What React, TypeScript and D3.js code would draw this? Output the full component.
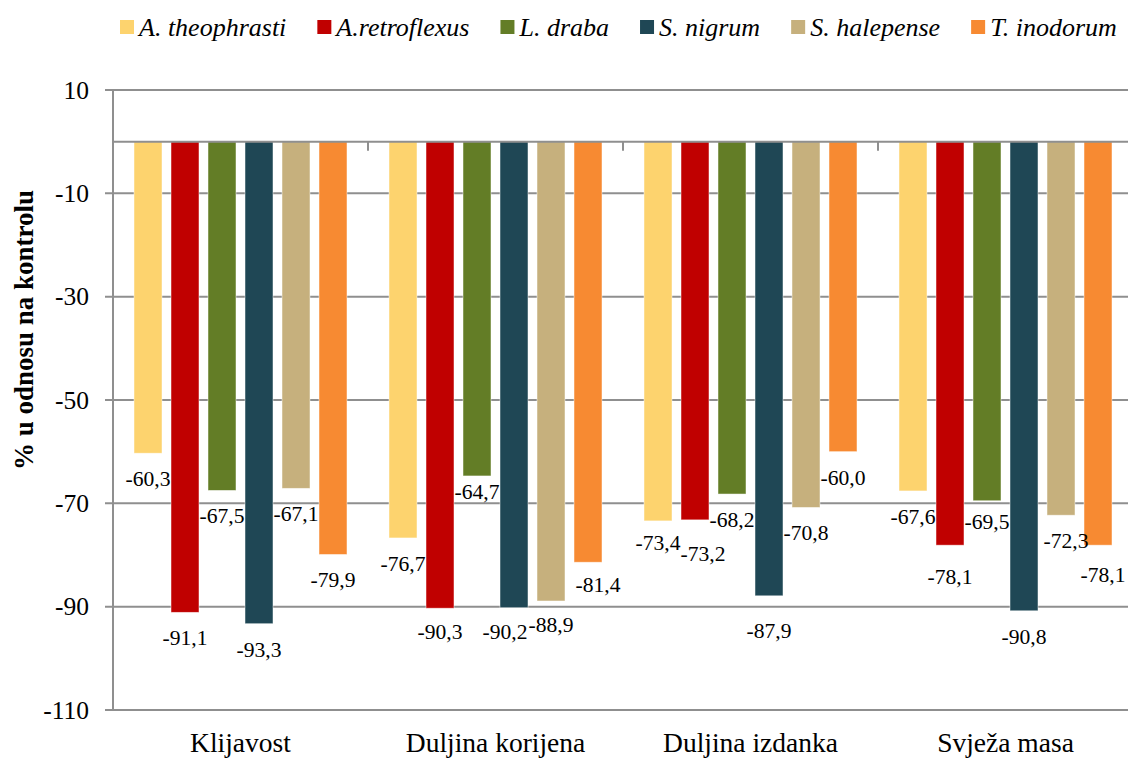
import React, { useEffect, useRef } from "react";
import * as d3 from "d3";

// categories on the x axis
const categories = ["Klijavost", "Duljina korijena", "Duljina izdanka", "Svježa masa"];

// weed species (series)
const species = ["A. theophrasti", "A.retroflexus", "L. draba", "S. nigrum", "S. halepense", "T. inodorum"];

// % relative to control, one array per species, in category order
const theophrasti = [-60.3, -76.7, -73.4, -67.6];
const retroflexus = [-91.1, -90.3, -73.2, -78.1];
const draba = [-67.5, -64.7, -68.2, -69.5];
const nigrum = [-93.3, -90.2, -87.9, -90.8];
const halepense = [-67.1, -88.9, -70.8, -72.3];
const inodorum = [-79.9, -81.4, -60.0, -78.1];

const seriesValues = [theophrasti, retroflexus, draba, nigrum, halepense, inodorum];

const colors = ["#FDD36E", "#C00000", "#637D26", "#1F4755", "#C6B07D", "#F78A32"];

const yTicks = [10, -10, -30, -50, -70, -90, -110];

// hand placed data labels in the original (dx, dy from default spot)
const labelNudge: Record<string, [number, number]> = {
  "L. draba|Duljina korijena": [0, -10],
  "S. nigrum|Duljina korijena": [-9, -2],
  "A.retroflexus|Duljina korijena": [0, -2],
  "S. halepense|Duljina korijena": [0, -2],
  "T. inodorum|Duljina korijena": [10, -3],
  "A. theophrasti|Duljina izdanka": [0, -4],
  "A.retroflexus|Duljina izdanka": [8, 8],
  "S. nigrum|Duljina izdanka": [0, 9],
  "A.retroflexus|Svježa masa": [0, 6],
  "L. draba|Svježa masa": [0, -5],
  "S. halepense|Svježa masa": [5, 0],
  "T. inodorum|Svježa masa": [5, 4],
};

const W = 1128;
const H = 758;
const FONT = "Liberation Serif, Tinos, Times New Roman, DejaVu Serif, serif";

const locale = d3.formatLocale({ decimal: ",", thousands: ".", grouping: [3], currency: ["", ""], minus: "-" });
const fmt = locale.format(".1f");

export default function App() {
  const ref = useRef<SVGSVGElement>(null);

  useEffect(() => {
    const svg = d3.select(ref.current);
    svg.selectAll("*").remove();

    const left = 113, right = 1133, top = 90, bottom = 710;

    const x0 = d3.scaleBand().domain(categories).range([left, right]).paddingInner(0).paddingOuter(0);
    const x1 = d3.scaleBand().domain(species).range([21, x0.bandwidth() - 21]).paddingInner(9 / 37).paddingOuter(0);
    const y = d3.scaleLinear().domain([10, -110]).range([top, bottom]);

    const grid = "#8f8f8f";

    // gridlines
    svg.append("g")
      .selectAll("line")
      .data(yTicks)
      .enter()
      .append("line")
      .attr("x1", left - 8)
      .attr("x2", right)
      .attr("y1", (d) => y(d))
      .attr("y2", (d) => y(d))
      .attr("stroke", grid)
      .attr("stroke-width", 2);

    // y tick labels
    svg.append("g")
      .selectAll("text")
      .data(yTicks)
      .enter()
      .append("text")
      .attr("x", left - 24)
      .attr("y", (d) => y(d))
      .attr("dy", "0.34em")
      .attr("text-anchor", "end")
      .attr("font-family", FONT)
      .attr("font-size", 25.5)
      .attr("fill", "#000")
      .text((d) => d);

    // bars
    const groups = svg.append("g")
      .selectAll("g")
      .data(categories)
      .enter()
      .append("g")
      .attr("transform", (d) => "translate(" + x0(d) + ",0)");

    groups.selectAll("rect")
      .data((c, ci) => species.map((s, si) => ({ s, si, c, v: seriesValues[si][ci] })))
      .enter()
      .append("rect")
      .attr("x", (d) => x1(d.s)!)
      .attr("width", x1.bandwidth())
      .attr("y", y(0))
      .attr("height", (d) => y(d.v) - y(0))
      .attr("fill", (d) => colors[d.si])
      .attr("stroke", "rgba(255,255,255,0.6)")
      .attr("stroke-width", 0.8);

    // zero axis line + category ticks
    svg.append("line")
      .attr("x1", left).attr("x2", right)
      .attr("y1", y(0)).attr("y2", y(0))
      .attr("stroke", grid).attr("stroke-width", 2);

    svg.append("g")
      .selectAll("line")
      .data(categories.slice(1))
      .enter()
      .append("line")
      .attr("x1", (d) => x0(d)!)
      .attr("x2", (d) => x0(d)!)
      .attr("y1", y(0))
      .attr("y2", y(0) + 9)
      .attr("stroke", grid)
      .attr("stroke-width", 2);

    // y axis line
    svg.append("line")
      .attr("x1", left).attr("x2", left)
      .attr("y1", top).attr("y2", bottom)
      .attr("stroke", grid).attr("stroke-width", 2);

    // data labels
    groups.selectAll("text.lbl")
      .data((c, ci) => species.map((s, si) => ({ s, si, c, v: seriesValues[si][ci] })))
      .enter()
      .append("text")
      .attr("class", "lbl")
      .attr("x", (d) => x1(d.s)! + x1.bandwidth() / 2 + (labelNudge[d.s + "|" + d.c] || [0, 0])[0])
      .attr("y", (d) => y(d.v) + 33 + (labelNudge[d.s + "|" + d.c] || [0, 0])[1])
      .attr("text-anchor", "middle")
      .attr("font-family", FONT)
      .attr("font-size", 21.6)
      .attr("fill", "#000")
      .text((d) => fmt(d.v));

    // category labels
    svg.append("g")
      .selectAll("text")
      .data(categories)
      .enter()
      .append("text")
      .attr("x", (d) => x0(d)! + x0.bandwidth() / 2)
      .attr("y", 752)
      .attr("text-anchor", "middle")
      .attr("font-family", FONT)
      .attr("font-size", 27.5)
      .attr("fill", "#000")
      .text((d) => d);

    // y axis title
    svg.append("text")
      .attr("transform", "translate(33," + 330 + ") rotate(-90)")
      .attr("text-anchor", "middle")
      .attr("font-family", FONT)
      .attr("font-size", 27)
      .attr("font-weight", "bold")
      .attr("fill", "#000")
      .text("% u odnosu na kontrolu");

    // legend
    const legend = svg.append("g");
    let lx = 120;
    species.forEach((s, i) => {
      const g = legend.append("g").attr("transform", "translate(" + lx + ",0)");
      g.append("rect")
        .attr("x", 0).attr("y", 20)
        .attr("width", 14).attr("height", 14)
        .attr("fill", colors[i]);
      const t = g.append("text")
        .attr("x", 19)
        .attr("y", 36)
        .attr("font-family", FONT)
        .attr("font-size", 26)
        .attr("font-style", "italic")
        .attr("fill", "#000")
        .text(s);
      const w = (t.node() as SVGTextElement).getComputedTextLength();
      lx += 19 + w + 31;
    });
  }, []);

  return (
    <svg
      ref={ref}
      width={W}
      height={H}
      style={{ position: "absolute", left: 0, top: 0, background: "#fff" }}
    />
  );
}
